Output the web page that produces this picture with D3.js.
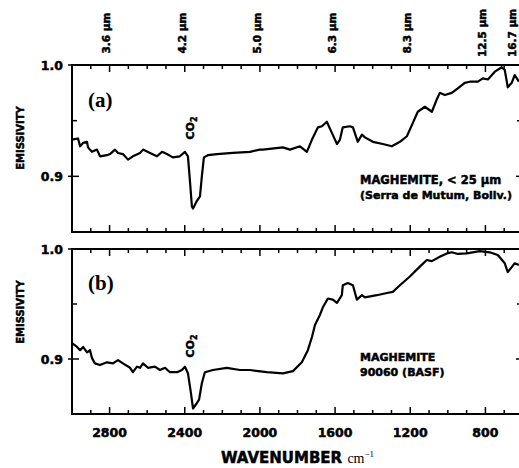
<!DOCTYPE html>
<html><head><meta charset="utf-8">
<script src="https://cdn.jsdelivr.net/npm/d3@7"></script>
<style>body{margin:0;background:#fff}svg{display:block}.hv{stroke:#000;stroke-width:0.5px}</style>
</head><body><svg id="c" width="519" height="468"></svg>
<script>
// ---- data ----
const waveA=[3000,2968,2957,2941,2920,2915,2894,2867,2851,2814,2798,2771,2755,2729,2702,2676,2638,2622,2585,2548,2521,2495,2463,2426,2399,2383,2372,2362,2356,2335,2319,2309,2298,2277,2229,2144,2053,2000,1984,1878,1840,1787,1750,1723,1691,1670,1644,1617,1590,1574,1559,1521,1505,1479,1457,1441,1399,1346,1298,1255,1218,1186,1160,1122,1085,1059,1043,1016,979,947,910,883,840,814,787,750,713,697,681,660,644,622];
const emisA=[0.933,0.934,0.927,0.930,0.931,0.926,0.922,0.924,0.918,0.919,0.920,0.924,0.921,0.920,0.915,0.918,0.921,0.924,0.921,0.918,0.922,0.920,0.917,0.918,0.922,0.918,0.895,0.873,0.871,0.878,0.882,0.900,0.917,0.919,0.920,0.921,0.922,0.924,0.924,0.926,0.924,0.927,0.922,0.933,0.944,0.945,0.949,0.939,0.929,0.933,0.944,0.945,0.944,0.931,0.9375,0.935,0.931,0.929,0.927,0.931,0.936,0.948,0.958,0.9625,0.958,0.969,0.975,0.973,0.975,0.979,0.984,0.985,0.985,0.988,0.987,0.994,0.998,0.9955,0.980,0.984,0.991,0.985];
const waveB=[3000,2973,2957,2941,2920,2904,2894,2878,2851,2814,2782,2755,2729,2691,2676,2654,2638,2622,2596,2559,2532,2505,2479,2441,2415,2399,2383,2367,2356,2335,2324,2309,2293,2250,2176,2106,2053,1963,1878,1824,1777,1745,1723,1707,1681,1665,1638,1612,1590,1564,1559,1532,1505,1484,1457,1441,1378,1324,1293,1255,1202,1149,1112,1085,1043,1005,979,947,899,830,777,734,697,681,660,644,622];
const emisB=[0.9145,0.911,0.908,0.911,0.906,0.908,0.901,0.896,0.8945,0.897,0.896,0.899,0.896,0.892,0.888,0.893,0.892,0.896,0.892,0.893,0.890,0.892,0.888,0.888,0.890,0.893,0.887,0.869,0.855,0.860,0.863,0.878,0.888,0.890,0.892,0.890,0.890,0.888,0.887,0.889,0.897,0.908,0.920,0.931,0.940,0.947,0.955,0.954,0.951,0.958,0.967,0.969,0.967,0.954,0.958,0.956,0.958,0.960,0.961,0.967,0.975,0.984,0.990,0.989,0.993,0.996,0.997,0.9955,0.996,0.998,0.997,0.9945,0.987,0.979,0.9835,0.987,0.9855];
const xMajor=[2800,2400,2000,1600,1200,800];
const xLabels=["2800","2400","2000","1600","1200","800"];
const xMinor=d3.range(2900,599,-100);
const topWaves=[2800,2400,2000,1600,1200,800,600];
const topLabels=["3.6 µm","4.2 µm","5.0 µm","6.3 µm","8.3 µm","12.5 µm","16.7 µm"];
const yMajor=[0.9,1.0];
const yLabels=["0.9","1.0"];
const yMinor=[0.95];
const panelLetters=["(a)","(b)"];
const notesA=["MAGHEMITE, < 25 µm","(Serra de Mutum, Boliv.)"];
const notesB=["MAGHEMITE","90060 (BASF)"];
const co2Wave=2370;

// ---- drawing ----
const svg=d3.select("#c");
const sans="'DejaVu Sans', sans-serif";
const x=d3.scaleLinear().domain([3000,600]).range([72,523]);
const panels=[
  {top:65,bottom:232,wave:waveA,emis:emisA,letter:panelLetters[0],notes:notesA,co2Y:128,letterY:107,noteY:184,labY:138},
  {top:249,bottom:414,wave:waveB,emis:emisB,letter:panelLetters[1],notes:notesB,co2Y:346,letterY:290,noteY:361,labY:312}
];
panels.forEach((p,pi)=>{
  const y=d3.scaleLinear().domain([0.85,1.0]).range([p.bottom,p.top]);
  const g=svg.append("g");
  g.append("rect").attr("x",x(3000)).attr("y",p.top).attr("width",x(600)-x(3000)).attr("height",p.bottom-p.top)
    .attr("fill","none").attr("stroke","#000").attr("stroke-width",2);
  const tk=(vals,len)=>{
    vals.forEach(v=>{
      g.append("line").attr("x1",x(v)).attr("x2",x(v)).attr("y1",p.top).attr("y2",p.top+len).attr("stroke","#000").attr("stroke-width",1.5);
      g.append("line").attr("x1",x(v)).attr("x2",x(v)).attr("y1",p.bottom).attr("y2",p.bottom-len).attr("stroke","#000").attr("stroke-width",1.5);
    });
  };
  tk(xMinor.filter(v=>!xMajor.includes(v)),4);
  tk(xMajor,7);
  yMajor.forEach((v,i)=>{
    g.append("line").attr("x1",x(3000)-4).attr("x2",x(3000)+7).attr("y1",y(v)).attr("y2",y(v)).attr("stroke","#000").attr("stroke-width",1.5);
    g.append("line").attr("x1",x(600)).attr("x2",x(600)-7).attr("y1",y(v)).attr("y2",y(v)).attr("stroke","#000").attr("stroke-width",1.5);
    g.append("text").attr("class","hv").attr("x",63).attr("y",y(v)).attr("dy","0.36em").attr("text-anchor","end")
      .attr("font-family",sans).attr("font-weight","bold").attr("font-size",12.5).text(yLabels[i]);
  });
  yMinor.forEach(v=>{
    g.append("line").attr("x1",x(3000)).attr("x2",x(3000)+5).attr("y1",y(v)).attr("y2",y(v)).attr("stroke","#000").attr("stroke-width",1.5);
    g.append("line").attr("x1",x(600)).attr("x2",x(600)-6).attr("y1",y(v)).attr("y2",y(v)).attr("stroke","#000").attr("stroke-width",1.5);
  });
  g.append("text").attr("class","hv").attr("transform",`translate(24,${p.labY}) rotate(-90)`).attr("text-anchor","middle")
    .attr("font-family",sans).attr("font-weight","bold").attr("font-size",10).text("EMISSIVITY");
  const data=p.wave.map((w,i)=>[w,p.emis[i]]);
  g.append("path").datum(data).attr("fill","none").attr("stroke","#000").attr("stroke-width",2.2).attr("stroke-linejoin","round")
    .attr("d",d3.line().x(d=>x(d[0])).y(d=>y(d[1])));
  g.append("text").attr("x",88).attr("y",p.letterY).attr("font-family","'Liberation Serif', serif").attr("font-weight","bold").attr("font-size",21).text(p.letter);
  const co=g.append("text").attr("class","hv").attr("transform",`translate(${x(co2Wave)+4},${p.co2Y}) rotate(-90)`).attr("text-anchor","middle")
    .attr("font-family",sans).attr("font-weight","bold").attr("font-size",11);
  co.append("tspan").text("CO");
  co.append("tspan").attr("font-size",8).attr("dy",3).text("2");
  p.notes.forEach((t,i)=>{
    g.append("text").attr("class","hv").attr("x",360).attr("y",p.noteY+i*15).attr("font-family",sans).attr("font-weight","bold").attr("font-size",i===0&&pi===0?11.5:11).text(t);
  });
  if(pi===1){
    xMajor.forEach((v,i)=>{
      g.append("text").attr("class","hv").attr("x",x(v)).attr("y",437).attr("text-anchor","middle").attr("font-family",sans).attr("font-weight","bold").attr("font-size",12.5).text(xLabels[i]);
    });
  }
});
topWaves.forEach((v,i)=>{
  const cx=Math.min(x(v)-3,512);
  svg.append("text").attr("class","hv").attr("transform",`translate(${cx},33) rotate(-90)`).attr("text-anchor","middle").attr("dy","0.36em")
    .attr("font-family",sans).attr("font-weight","bold").attr("font-size",10.5).text(topLabels[i]);
});
const xt=svg.append("text").attr("x",x(1800)).attr("y",463).attr("text-anchor","middle");
xt.append("tspan").attr("class","hv").attr("font-family",sans).attr("font-weight","bold").attr("font-size",15).text("WAVENUMBER ");
xt.append("tspan").attr("font-family","'Liberation Serif', serif").attr("font-size",14).text("cm");
xt.append("tspan").attr("font-family","'Liberation Serif', serif").attr("font-size",9).attr("dy",-6).text("−1");
</script></body></html>
